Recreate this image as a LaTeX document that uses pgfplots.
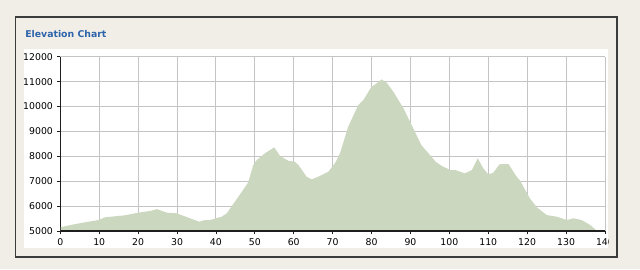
\documentclass[border=0pt]{standalone}
\usepackage{pgfplots}
\pgfplotsset{compat=1.18}
\usepackage{fontspec}
\setmainfont{DejaVu Sans}
\definecolor{bgc}{RGB}{241,238,232}
\definecolor{framec}{RGB}{60,60,60}
\definecolor{titleblue}{RGB}{45,100,170}
\definecolor{fillc}{RGB}{203,215,191}
\definecolor{gridc}{RGB}{196,196,196}
\definecolor{axc}{RGB}{30,30,30}
\begin{document}
\begin{tikzpicture}
\begin{scope}[x=0.75pt,y=0.75pt]
\useasboundingbox (0,0) rectangle (640,269);
\fill[bgc] (0,0) rectangle (640,269);
\draw[framec, line width=0.9pt] (15.5,252) rectangle (617,12);
\fill[white] (24,220) rectangle (608,21);
\node[anchor=base west, text=titleblue, font=\fontsize{7}{8}\selectfont\bfseries, inner sep=0pt] at (25,232) {Elevation Chart};
\end{scope}
\begin{scope}
\clip (18pt,15.75pt) rectangle (456pt,165pt);
\begin{axis}[
  at={(45.225pt,28.5pt)}, anchor=south west,
  scale only axis, width=408.5pt, height=130.7pt,
  xmin=0, xmax=140, ymin=5000, ymax=12000,
  xtick={0,10,...,140}, ytick={5000,6000,...,12000},
  scaled ticks=false,
  axis lines=left, axis line style={-, draw=axc, line width=0.8pt},
  grid=major, major grid style={draw=gridc, line width=0.7pt},
  tick align=outside, major tick length=2.5pt,
  tick style={draw=axc, line width=0.6pt},
  tick label style={font=\fontsize{7}{8}\selectfont, text=black},
  /pgf/number format/assume math mode=true,
  /pgf/number format/1000 sep={},
  xticklabel style={yshift=0.5pt},
  yticklabel style={xshift=0.5pt},
]
\addplot[fill=fillc, draw=none] coordinates {
(0,5150) (3,5250) (6,5340) (9.8,5440) (11.5,5550) (16.6,5630) (20,5735) (23.5,5815) (24.8,5880)
(27.4,5735) (29.9,5710) (35.7,5375) (37.2,5440) (38.5,5440) (40.2,5520) (41.5,5575) (42.8,5710)
(45,6200) (48.3,6950) (49.6,7650) (50.5,7850) (52.6,8120) (55,8360) (56.5,8010) (58.6,7820)
(60.3,7780) (61.2,7650) (63.3,7180) (64.6,7075) (66.3,7180) (68.9,7380) (70.6,7720) (71.9,8120)
(74,9190) (76.6,10060) (77.9,10260) (80,10795) (81.3,10930) (82.6,11090) (83.9,10955) (85.6,10595)
(88.2,9930) (90.3,9260) (92.8,8450) (95.3,8000) (96.5,7780) (98.1,7610) (100.2,7450) (101.5,7450)
(104,7315) (105.8,7450) (107.3,7920) (108.7,7520) (110,7275) (111.3,7340) (112.9,7680) (115.2,7690)
(117.3,7180) (118.2,7020) (120.7,6310) (122.5,5950) (125,5640) (127.6,5575) (130.2,5440) (131.9,5510)
(134,5440) (136.2,5240) (138,5000)
} \closedcycle;
\draw[axc, line width=0.8pt] (rel axis cs:0,0) -- (rel axis cs:1,0);
\draw[axc, line width=0.8pt] (rel axis cs:0,0) -- (rel axis cs:0,1);
\end{axis}
\end{scope}
\end{tikzpicture}
\end{document}
